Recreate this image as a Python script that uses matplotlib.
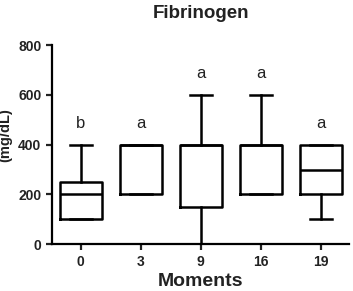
import numpy as np
import matplotlib
matplotlib.use("Agg")
import matplotlib.pyplot as plt

plt.rcParams['font.family'] = ['Liberation Sans', 'DejaVu Sans']
plt.rcParams['font.weight'] = 'bold'

moments = ['0', '3', '9', '16', '19']
whislo = [100, 200, 0, 200, 100]
q1 = [100, 200, 150, 200, 200]
med = [200, 400, 400, 400, 300]
q3 = [250, 400, 400, 400, 400]
whishi = [400, 400, 600, 600, 400]
letters = ['b', 'a', 'a', 'a', 'a']
letter_y = [455, 455, 655, 655, 455]

stats = []
for i in range(len(moments)):
    stats.append(dict(whislo=whislo[i], q1=q1[i], med=med[i], q3=q3[i],
                      whishi=whishi[i], label=moments[i]))

fig = plt.figure(figsize=(3.53, 2.91), dpi=100)
ax = fig.add_axes([0.147, 0.161, 0.843, 0.684])

lw = 1.8
ax.bxp(stats, positions=range(len(moments)), widths=0.7, showfliers=False,
       boxprops=dict(color='black', linewidth=lw),
       medianprops=dict(color='black', linewidth=lw),
       whiskerprops=dict(color='black', linewidth=lw),
       capprops=dict(color='black', linewidth=lw),
       capwidths=0.37)

for i, t in enumerate(letters):
    ax.text(i, letter_y[i], t, ha='center', va='bottom', fontsize=12,
            fontweight='normal', color='#222222')

ax.set_xlim(-0.48, 4.48)
ax.set_ylim(0, 800)
ax.set_yticks([0, 200, 400, 600, 800])
ax.set_xticks(range(len(moments)))
ax.set_xticklabels(moments)
ax.spines['top'].set_visible(False)
ax.spines['right'].set_visible(False)
ax.spines['left'].set_linewidth(1.6)
ax.spines['bottom'].set_linewidth(1.6)
ax.tick_params(width=1.6, length=4, labelsize=10, colors='#222222')
for lab in ax.get_xticklabels() + ax.get_yticklabels():
    lab.set_fontweight('bold')

ax.set_ylabel('(mg/dL)', fontsize=10.5, fontweight='bold', color='#222222')
ax.yaxis.set_label_coords(-0.132, 0.55)
fig.text(0.569, 0.034, 'Moments', fontsize=14, fontweight='bold',
         ha='center', va='center', color='#222222')
fig.text(0.569, 0.955, 'Fibrinogen', fontsize=13.5, fontweight='bold',
         ha='center', va='center', color='#222222')

fig.savefig('out.png', dpi=100)
